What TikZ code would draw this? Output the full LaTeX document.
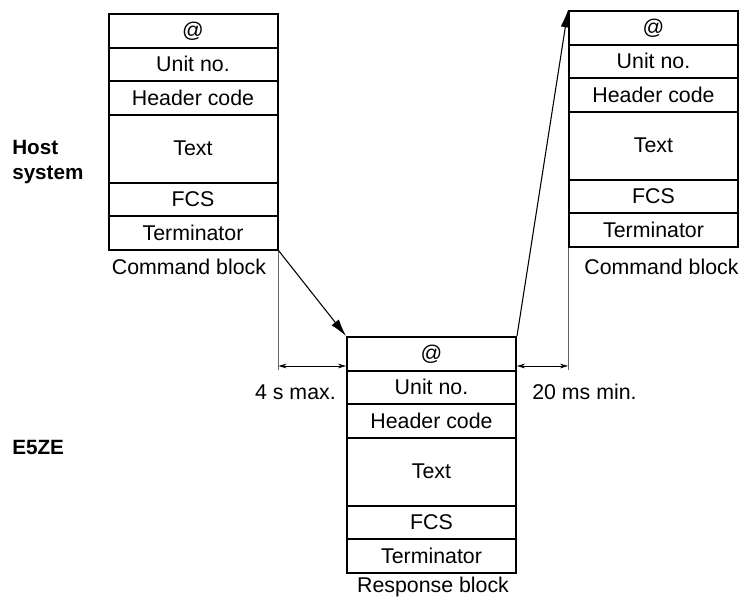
\documentclass[tikz,border=0pt]{standalone}
\usepackage{fontspec}
\setmainfont{Liberation Sans}
\usetikzlibrary{arrows.meta}

\begin{document}
\begin{tikzpicture}[x=0.75pt,y=-0.75pt]
  \tikzset{row/.style={draw,line width=1.5pt,minimum width=169*0.75pt,minimum height=#1*0.75pt,inner sep=0pt,font=\fontsize{16}{19}\selectfont},
           row/.default=33.5,
           caption/.style={inner sep=0pt,font=\fontsize{16}{19}\selectfont},
           side/.style={inner sep=0pt,anchor=west,align=left,font=\fontsize{15.5}{18.75}\selectfont\bfseries},
           guide/.style={gray!80!black,line width=0.6pt},
           span/.style={line width=0.6pt,{Stealth[length=6pt,width=3.5pt]}-{Stealth[length=6pt,width=3.5pt]}}}
  \useasboundingbox (0,0) rectangle (743,597);

  % host command block
  \node [row] (L1) at (193,30.75) {@};
  \node [row] (L2) at (193,64.25) {Unit no.};
  \node [row] (L3) at (193,97.75) {Header code};
  \node [row=68] (L4) at (193,148.5) {Text};
  \node [row] (L5) at (193,199.25) {FCS};
  \node [row] (L6) at (193,232.75) {Terminator};
  \node [caption] (Lcap) at (189,267) {Command block};

  % next command block
  \node [row] (R1) at (653.5,27.75) {@};
  \node [row] (R2) at (653.5,61.25) {Unit no.};
  \node [row] (R3) at (653.5,94.75) {Header code};
  \node [row=68] (R4) at (653.5,145.5) {Text};
  \node [row] (R5) at (653.5,196.25) {FCS};
  \node [row] (R6) at (653.5,229.75) {Terminator};
  \node [caption] (Rcap) at (661.5,267) {Command block};

  % E5ZE response block
  \node [row] (B1) at (431.5,353.75) {@};
  \node [row] (B2) at (431.5,387.25) {Unit no.};
  \node [row] (B3) at (431.5,420.75) {Header code};
  \node [row=68] (B4) at (431.5,471.5) {Text};
  \node [row] (B5) at (431.5,522.25) {FCS};
  \node [row] (B6) at (431.5,555.75) {Terminator};
  \node [caption] (Bcap) at (433,587) {Response block};

  \node [side] (host) at (12,162) {Host\\system};
  \node [side] (e5ze) at (12,447.5) {E5ZE};

  % timing
  \coordinate (g1) at (L6.south east |- 0,370);
  \coordinate (g2) at (R6.south west |- 0,370);
  \draw [guide] (L6.south east) -- (g1);
  \draw [guide] (R6.south west) -- (g2);
  \draw [span] (L6.south east |- 0,366) -- (B1.south west |- 0,366);
  \draw [span] (B1.south east |- 0,366) -- (R6.south west |- 0,366);
  \node [caption,anchor=east] (tmax) at (336,392) {4 s max.};
  \node [caption,anchor=west] (tmin) at (532,392) {20 ms min.};

  \draw [line width=0.8pt,-{Latex[length=13pt,width=7pt]}] (L6.south east) -- (B1.north west);
  \draw [line width=0.8pt,-{Latex[length=13pt,width=7pt]}] (B1.north east) -- (R1.north west);
\end{tikzpicture}
\end{document}
